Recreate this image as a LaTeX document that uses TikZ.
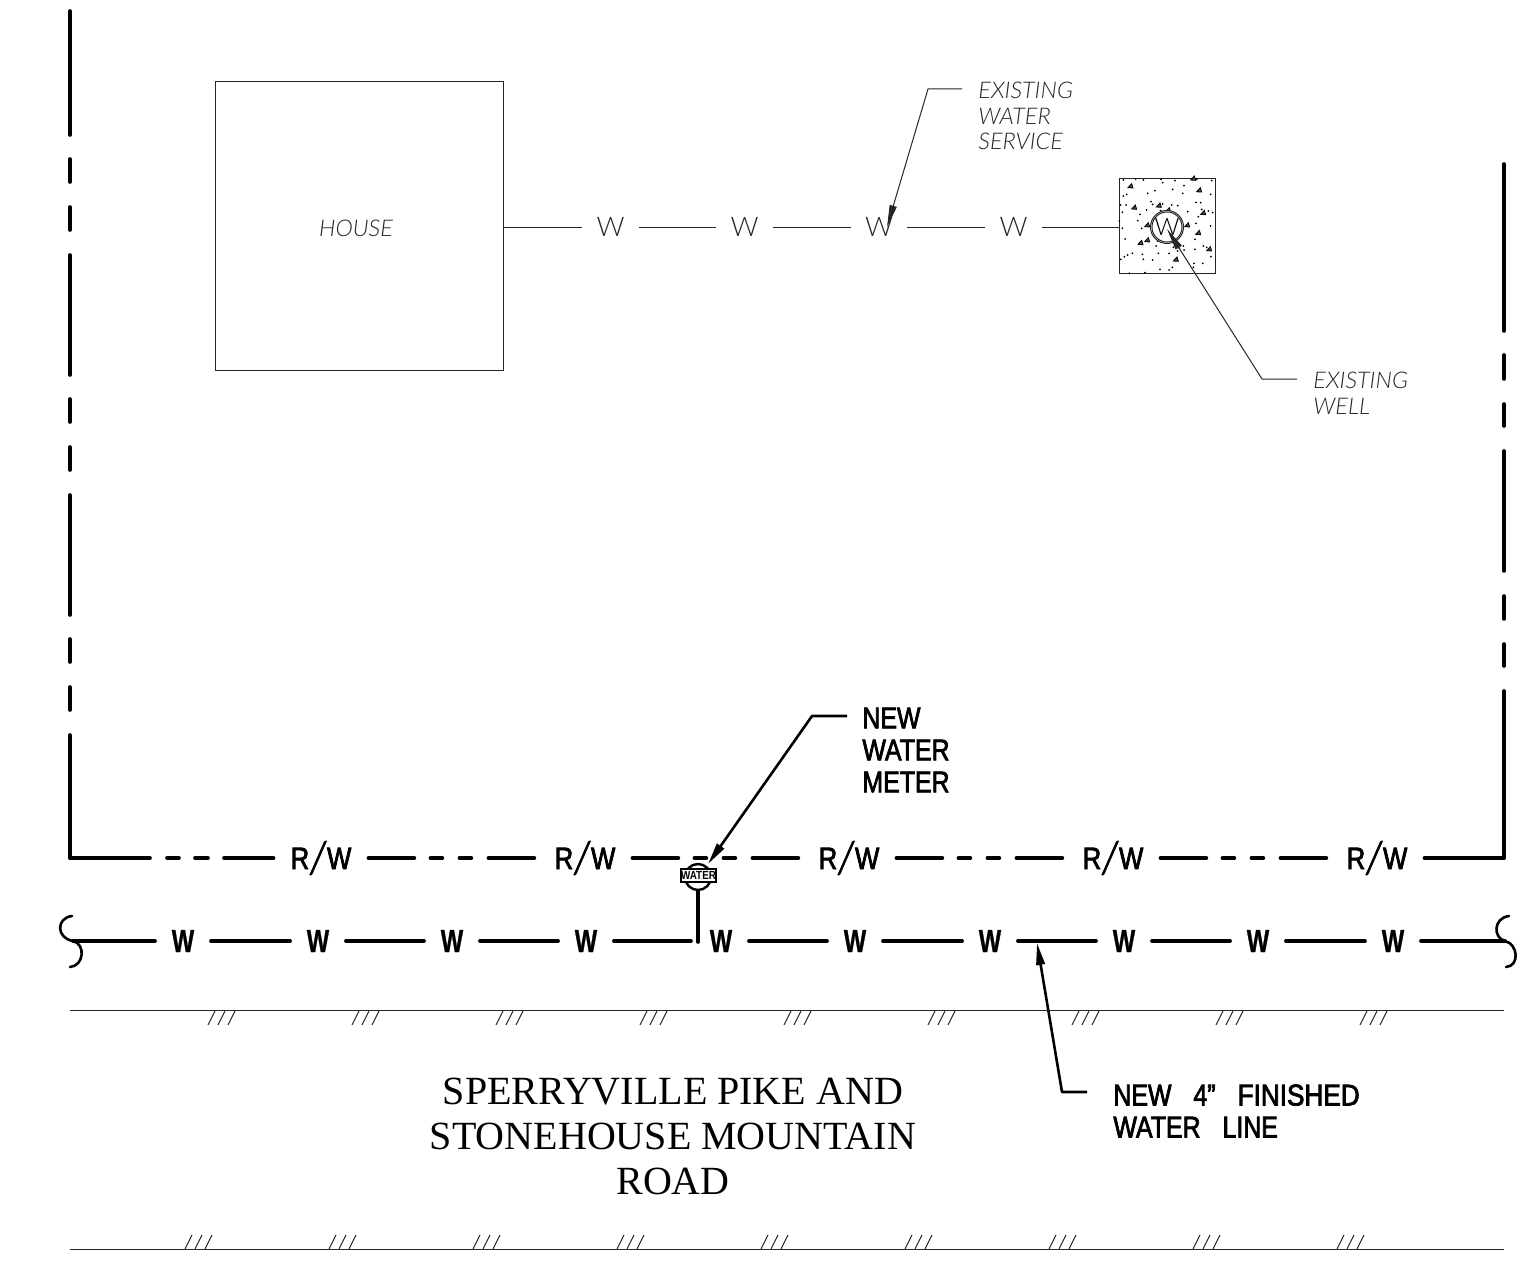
\documentclass[tikz,border=0pt]{standalone}
\usepackage{fontspec}
\usetikzlibrary{arrows.meta}
\setmainfont{Liberation Sans}
\newfontfamily\thinf[FakeStretch=1.02]{Lato Light}
\newfontfamily\slashf[FakeBold=1.6]{Lato Light}
\newfontfamily\boldf[FakeStretch=.83,FakeBold=2.4]{Liberation Sans}
\newfontfamily\wfont[FakeStretch=.74,FakeBold=.8]{Liberation Sans Bold}
\newfontfamily\serf{Liberation Serif}
\newcommand{\rwtext}{R\kern-.6pt\raisebox{-2pt}{\slashf\scalebox{1.5}[1.42]{/}}\kern-.6pt W}
\tikzset{
 thinl/.style={line width=.5pt,black!85},
 thickl/.style={line width=1.8pt,line cap=round,black},
 leadt/.style={line width=.5pt,black!85,-{Triangle[length=11pt,width=3.6pt]}},
 leadb/.style={line width=1.3pt,line join=round,black,-{Triangle[length=11pt,width=4.2pt]}},
 thinlab/.style={inner sep=0,anchor=west,align=left,font=\thinf\itshape\fontsize{11.5}{12.8}\selectfont,text=black!85},
 boldlab/.style={inner sep=0,anchor=west,align=left,font=\boldf\fontsize{15}{16}\selectfont},
 wthin/.style={inner sep=0,minimum width=28pt,minimum height=10pt,font=\thinf\fontsize{13.5}{14}\selectfont,text=black!85},
 wbold/.style={inner sep=0,minimum width=27.5pt,minimum height=10pt,font=\wfont\fontsize{16}{16}\selectfont},
 rwlab/.style={inner sep=0,minimum width=47pt,minimum height=10pt,font=\boldf\fontsize{15.5}{16}\selectfont},
 rwdash/.style={thickl,dash pattern=on 23pt off 8pt on 6pt off 8.5pt on 6pt off 8.5pt on 23pt},
}
\begin{document}
\begin{tikzpicture}[x=.5pt,y=-.5pt]
\useasboundingbox (0,0) rectangle (1520,1268);
% boundary verticals
\coordinate (lt) at (70,11); \coordinate (lc) at (70,858);
\coordinate (rt) at (1504,164); \coordinate (rc) at (1504,858);
\draw[line width=1.8pt,line cap=round,dash pattern=on 61.5pt off 12.5pt on 11.5pt off 12.5pt on 11.5pt off 12pt on 60pt off 12.5pt on 11.5pt off 12.5pt on 11.5pt off 12pt on 60pt off 12.5pt on 11.5pt off 12.5pt on 11.5pt off 12pt on 62pt off 100pt] (lc) -- (lt);
\draw[line width=1.8pt,line cap=round,dash pattern=on 83.5pt off 12pt on 12pt off 12.5pt on 11pt off 12.5pt on 60pt off 12.5pt on 11.5pt off 12.5pt on 11pt off 12.5pt on 83.5pt off 100pt] (rt) -- (rc);
% house + service
\node[draw=black!85,line width=.5pt,minimum width=144pt,minimum height=144pt,inner sep=0] (house) at (359,226) {};
\node[inner sep=0,font=\thinf\itshape\fontsize{11.5}{12}\selectfont,text=black!85] (houset) at (356,228) {HOUSE};
\node[draw=black!85,line width=.5pt,minimum width=48pt,minimum height=47.5pt,inner sep=0] (pad) at (1167,225.5) {};
\node[wthin] (s1) at (610.5,227) {W};
\node[wthin] (s2) at (744.5,227) {W};
\node[wthin] (s3) at (879,227) {W};
\node[wthin] (s4) at (1013.5,227) {W};
\draw[thinl] (house.east |- s1) -- (s1);
\draw[thinl] (s1) -- (s2);
\draw[thinl] (s2) -- (s3);
\draw[thinl] (s3) -- (s4);
\draw[thinl] (s4) -- (pad.west |- s4);
% stipple
\begin{scope}[shift={(1090,160)},x=.16667pt,y=-.16667pt]
\foreach \x/\y in {100/60,137/57,160/60,213/58,255/62,282/77,218/68,365/62,320/58,100/108,110/103,173/100,195/92,248/88,278/100,327/95,362/103,183/125,188/133,108/135,92/135,97/157,170/150,150/163,218/132,245/135,263/137,318/127,332/128,335/148,293/155,325/170,355/153,368/158,143/182,155/205,97/205,88/183,197/172,212/152,318/190,362/198,105/237,198/258,203/243,340/258,315/238,280/258,268/265,250/262,127/280,113/285,103/290,92/298,157/283,160/298,205/280,237/280,263/273,282/270,350/262,315/268,363/290,247/322,237/330,210/328,165/338,312/310,338/310,310/322,118/340,188/300}
  \fill[black] (\x,\y) circle[radius=3];
\foreach \x/\y in {122/78,328/90,133/142,207/136,235/150,340/158,172/195,292/195,325/218,152/248,172/240,358/267,258/298,310/55}
  \draw[black,line width=.4pt,fill=black!70] (\x-8,\y+5) -- (\x+7,\y+6) -- (\x+3,\y-7) -- cycle;
\end{scope}
\node[draw=black!85,circle,fill=white,line width=.5pt,minimum size=16.5pt,inner sep=0] (wo) at (1167,227) {};
\node[draw=black!85,circle,line width=.5pt,minimum size=13pt,inner sep=0,font=\thinf\fontsize{12}{12}\selectfont] (wi) at (1167,227) {W};
% leaders thin
\coordinate (a1) at (962,89); \coordinate (a2) at (928,89); \coordinate (a3) at (887,227);
\draw[leadt] (a1) -- (a2) -- (a3);
\node[thinlab] (t1) at (978,116) {EXISTING\\WATER\\SERVICE};
\coordinate (b1) at (1297,379); \coordinate (b2) at (1262,379); \coordinate (b3) at (1167,229);
\draw[leadt] (b1) -- (b2) -- (b3);
\node[thinlab] (t2) at (1313,393) {EXISTING\\WELL};
% R/W line
\node[rwlab] (r1) at (321,858) {\rwtext};
\node[rwlab] (r2) at (585,858) {\rwtext};
\node[rwlab] (r3) at (849,858) {\rwtext};
\node[rwlab] (r4) at (1113,858) {\rwtext};
\node[rwlab] (r5) at (1377,858) {\rwtext};
\draw[thickl,dash pattern=on 40pt off 8.5pt on 6pt off 8pt on 6.5pt off 8pt on 40pt] (lc) -- (r1.west);
\draw[rwdash] (r1) -- (r2);
\draw[rwdash] (r2) -- (r3);
\draw[rwdash] (r3) -- (r4);
\draw[rwdash] (r4) -- (r5);
\draw[thickl] (r5) -- (rc);
% water line
\coordinate (wl) at (73,941); \coordinate (wr) at (1505,941);
\draw[line width=1.3pt,line cap=round] (72,916) .. controls (56,918) and (56,938) .. (wl) .. controls (86,944) and (84,966) .. (70,967);
\draw[line width=1.3pt,line cap=round] (1509,916) .. controls (1493,918) and (1493,938) .. (wr) .. controls (1518,944) and (1520,966) .. (1506,967);
\foreach \n/\x in {1/183,2/318,3/452,4/586,5/721,6/855,7/990,8/1124,9/1258,10/1393}
  \node[wbold] (w\n) at (\x,941) {W};
\draw[thickl] (wl) -- (w1);
\foreach \a/\b in {1/2,2/3,3/4,5/6,6/7,7/8,8/9,9/10}
  \draw[thickl] (w\a) -- (w\b);
\draw[thickl] (w10) -- (wr);
\coordinate (tee) at (698,942);
\coordinate (teel) at (691,941);
\draw[thickl] (w4) -- (teel);
% meter
\node[draw,circle,line width=1.2pt,minimum size=13pt,inner sep=0] (mc) at (698,877) {};
\draw[thickl] (mc) -- (tee);
\node[draw,line width=1.2pt,fill=white,inner sep=0,minimum width=17pt,minimum height=6.5pt,font=\bfseries\fontsize{5.6}{5.6}\selectfont] (mt) at (698.5,875.5) {\scalebox{.88}[1.05]{WATER}};
% leaders thick
\coordinate (c1) at (847,716); \coordinate (c2) at (812,716); \coordinate (c3) at (708,864);
\draw[leadb] (c1) -- (c2) -- (c3);
\node[boldlab] (t3) at (862,750) {NEW\\WATER\\METER};
\coordinate (d1) at (1087,1092); \coordinate (d2) at (1062,1092); \coordinate (d3) at (1037,943);
\draw[leadb] (d1) -- (d2) -- (d3);
\node[boldlab] (t4) at (1113,1111) {NEW\hspace{11pt}4”\hspace{11pt}\scalebox{1.05}[1]{FINISHED}\\WATER\hspace{11pt}LINE};
% road
\coordinate (ra) at (70,1010); \coordinate (rb) at (1504,1010);
\coordinate (rd) at (70,1249); \coordinate (re) at (1504,1249);
\draw[thinl] (ra) -- (rb);
\draw[thinl] (rd) -- (re);
\foreach \x in {208,352,496,640,784,928,1072,1216,1360}
  \foreach \d in {0,10,20}
    \draw[line width=.5pt,black!85] (\x+\d,1025) -- (\x+\d+7,1011);
\foreach \x in {185,329,473,617,761,905,1049,1193,1337}
  \foreach \d in {0,10,20}
    \draw[line width=.5pt,black!85] (\x+\d,1249) -- (\x+\d+7,1235);
\node[inner sep=0,align=center,font=\serf\fontsize{20}{22.5}\selectfont] (road) at (673,1136) {SPERRYVILLE PIKE AND\\STONEHOUSE MOUNTAIN\\ROAD};
\end{tikzpicture}
\end{document}
